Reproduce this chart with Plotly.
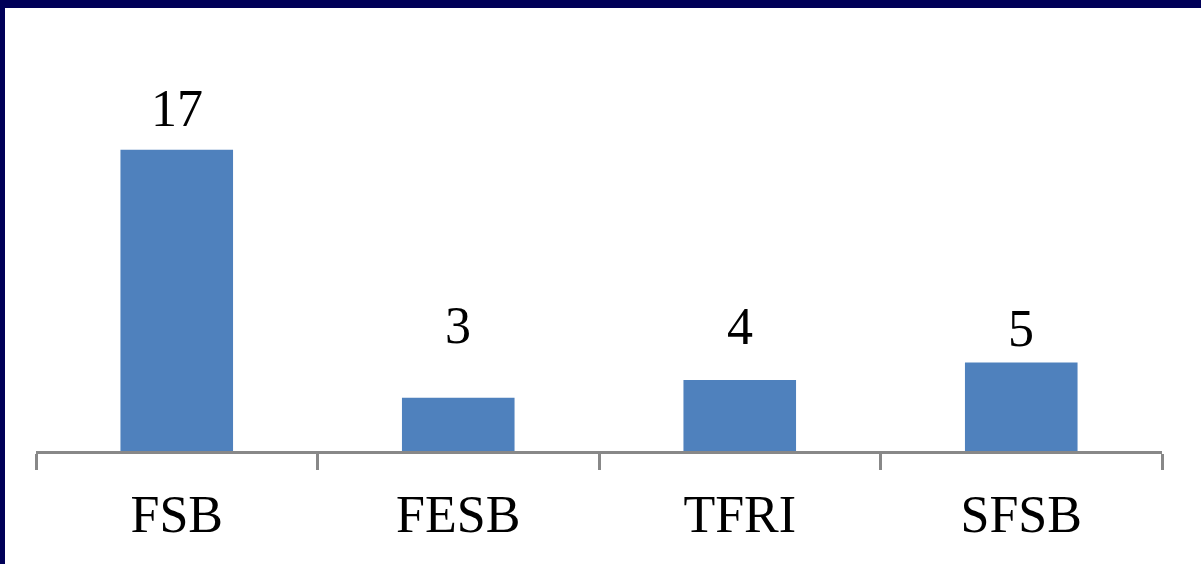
import plotly.graph_objects as go

categories = ["FSB", "FESB", "TFRI", "SFSB"]
values = [17, 3, 4, 5]

# label vertical offsets (px) above bar tops, as placed in the original
label_shift = [11, 42, 23, 3]

W, H = 1201, 564
ml, mr, mt, mb = 36, 39, 8, 113
pw = W - ml - mr
ph = H - mt - mb

fig = go.Figure()
fig.add_trace(go.Bar(
    x=categories, y=values, width=0.4,
    marker=dict(color="#4F81BD", line=dict(width=0)),
    hoverinfo="skip",
))
for c, v, s in zip(categories, values, label_shift):
    fig.add_annotation(x=c, y=v, text=str(v), showarrow=False, yanchor="bottom",
                       yshift=s, font=dict(family="Liberation Serif", size=52, color="#000000"))

navy = "#000058"
fig.add_shape(type="rect", xref="paper", yref="paper",
              x0=-ml / pw, x1=1 + mr / pw, y0=1, y1=1 + mt / ph,
              fillcolor=navy, line=dict(width=0), layer="above")
fig.add_shape(type="rect", xref="paper", yref="paper",
              x0=-ml / pw, x1=-(ml - 5) / pw, y0=-mb / ph, y1=1 + mt / ph,
              fillcolor=navy, line=dict(width=0), layer="above")

fig.update_layout(
    width=W, height=H, autosize=False,
    margin=dict(l=ml, r=mr, t=mt, b=mb, pad=0),
    paper_bgcolor="white", plot_bgcolor="white",
    showlegend=False, bargap=0.6,
    xaxis=dict(
        type="category", range=[-0.5, 3.5], showline=True, linecolor="#888888", linewidth=3,
        ticks="outside", tickson="boundaries", ticklen=16, tickwidth=3, tickcolor="#888888",
        showgrid=False, zeroline=False,
        tickfont=dict(family="Liberation Serif", size=52, color="#000000"),
        ticklabelstandoff=16,
    ),
    yaxis=dict(range=[0, 25], visible=False, showgrid=False, zeroline=False),
)

fig.write_html("out.html")
